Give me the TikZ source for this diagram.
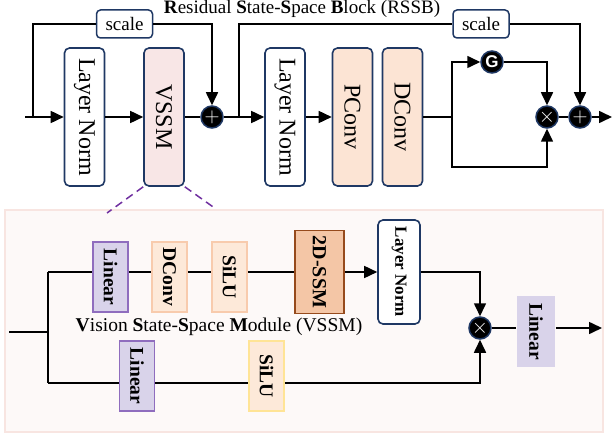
\documentclass[tikz,border=0pt]{standalone}
\usepackage{fontspec}
\setmainfont{Liberation Serif}
\setsansfont{Liberation Sans}
\usetikzlibrary{arrows.meta}
\definecolor{navy}{RGB}{31,56,100}
\definecolor{pinkf}{RGB}{248,230,230}
\definecolor{peachf}{RGB}{252,228,212}
\definecolor{panelf}{RGB}{253,249,248}
\definecolor{paneld}{RGB}{248,229,225}
\definecolor{linf}{RGB}{217,211,234}
\definecolor{lind}{RGB}{143,109,190}
\definecolor{lpeachf}{RGB}{253,233,217}
\definecolor{lpeachd}{RGB}{248,203,173}
\definecolor{yeld}{RGB}{255,228,150}
\definecolor{ssmf}{RGB}{244,198,166}
\definecolor{ssmd}{RGB}{150,74,28}
\definecolor{dashc}{RGB}{112,48,160}
\tikzset{
  conn/.style={line width=1.6pt},
  arr/.style={line width=1.6pt,-{Triangle[length=13pt,width=12pt]}},
  bigbox/.style={draw=navy,line width=1.6pt,rounded corners=5pt,rotate=-90,inner sep=0pt,
    minimum width=138pt,minimum height=40pt,font=\fontsize{24}{24}\selectfont},
  scalebox/.style={draw=navy,line width=1.5pt,rounded corners=4pt,fill=white,inner sep=0pt,
    minimum width=56pt,minimum height=28pt,font=\fontsize{19}{19}\selectfont},
  circ/.style={circle,fill=black,draw=navy,line width=1.5pt,minimum size=22pt,inner sep=0pt,text=white},
  smallbox/.style={rotate=-90,inner sep=0pt,line width=1.8pt,minimum width=70pt,minimum height=35pt,
    font=\fontsize{19.5}{19.5}\selectfont\bfseries},
}
\begin{document}
\begin{tikzpicture}[x=1pt,y=-1pt]
\useasboundingbox (0,0) rectangle (613,433);
% title
\node[font=\fontsize{19}{19}\selectfont] (title) at (302,9) {\textbf{R}esidual \textbf{S}tate-\textbf{S}pace \textbf{B}lock (RSSB)};
% top boxes (rotate=-90: page west = .south, page east = .north)
\node[bigbox,fill=white] (ln1) at (84.5,117) {Layer Norm};
\node[bigbox,fill=pinkf] (vssm) at (164,117) {VSSM};
\node[bigbox,fill=white] (ln2) at (285,117) {Layer Norm};
\node[bigbox,fill=peachf] (pconv) at (352.5,117) {PConv};
\node[bigbox,fill=peachf] (dconv) at (402.5,117) {DConv};
\node[scalebox] (s1) at (124.5,24) {scale};
\node[scalebox] (s2) at (481,24) {scale};
\node[circ,font=\fontsize{20}{20}\selectfont] (p1) at (212,117) {$+$};
\node[circ,font=\fontsize{17}{17}\selectfont\sffamily\bfseries] (g) at (492,62) {G};
\node[circ,font=\fontsize{20}{20}\selectfont] (t1) at (547,117) {$\times$};
\node[circ,font=\fontsize{20}{20}\selectfont] (p2) at (580,117) {$+$};
\coordinate (in) at (25,117);
\coordinate (b1) at (33,117);
\coordinate (b2) at (239,117);
\coordinate (b3) at (452,117);
\coordinate (b4) at (452,167);
\coordinate (out) at (612,117);
% top connectors
\draw[arr] (in) -- (ln1.south);
\draw[conn] (b1) |- (s1.west);
\draw[arr] (s1.east) -| (p1.north);
\draw[arr] (ln1.north) -- (vssm.south);
\draw[conn] (vssm.north) -- (p1.west);
\draw[arr] (p1.east) -- (ln2.south);
\draw[conn] (b2) |- (s2.west);
\draw[arr] (s2.east) -| (p2.north);
\draw[arr] (ln2.north) -- (pconv.south);
\draw[conn] (dconv.north) -- (b3);
\draw[arr] (b3) |- (g.west);
\draw[arr] (g.east) -| (t1.north);
\draw[arr] (b3) -- (b4) -| (t1.south);
\draw[conn] (t1.east) -- (p2.west);
\draw[arr] (p2.east) -- (out);
% panel
\draw[fill=panelf,draw=paneld,line width=1.2pt] (5,210) rectangle (603,432);
\draw[dashc,line width=1.5pt,dash pattern=on 8pt off 5pt] (vssm.south east) -- (107,213);
\draw[dashc,line width=1.5pt,dash pattern=on 8pt off 5pt] (vssm.north east) -- (216,209);
% bottom boxes
\node[smallbox,fill=linf,draw=lind] (lin1) at (110.5,277) {Linear};
\node[smallbox,fill=lpeachf,draw=lpeachd] (dc2) at (169.5,277) {DConv};
\node[smallbox,fill=lpeachf,draw=lpeachd] (si1) at (229.5,277) {SiLU};
\node[smallbox,fill=ssmf,draw=ssmd,minimum width=83pt,minimum height=49pt,font=\fontsize{20}{20}\selectfont\bfseries] (ssm) at (319.5,272) {2D-SSM};
\node[bigbox,fill=white,minimum width=104pt,minimum height=42pt,font=\fontsize{17}{17}\selectfont\bfseries] (ln3) at (399,272) {Layer Norm};
\node[smallbox,fill=linf,draw=lind] (lin2) at (137,376) {Linear};
\node[smallbox,fill=lpeachf,draw=yeld] (si2) at (266.5,376) {SiLU};
\node[smallbox,fill=linf,minimum width=71pt,minimum height=38pt] (lin3) at (536,331.5) {Linear};
\node[circ,font=\fontsize{20}{20}\selectfont] (t2) at (480,328) {$\times$};
\node[font=\fontsize{19.5}{19.5}\selectfont] (cap) at (219,327) {\textbf{V}ision \textbf{S}tate-\textbf{S}pace \textbf{M}odule (VSSM)};
\coordinate (vin) at (9,332);
\coordinate (vb) at (48,332);
\coordinate (r1) at (48,272);
\coordinate (r2) at (48,383);
\coordinate (vout) at (602,328);
% bottom connectors
\draw[conn] (vin) -- (vb);
\draw[conn] (r1) -- (r2);
\draw[conn] (r1) -- (r1 -| lin1.south);
\draw[conn] (lin1.north |- r1) -- (r1 -| dc2.south);
\draw[conn] (dc2.north |- r1) -- (r1 -| si1.south);
\draw[conn] (si1.north |- r1) -- (r1 -| ssm.south);
\draw[arr] (ssm.north) -- (ln3.south);
\draw[arr] (ln3.north) -| (t2.north);
\draw[conn] (r2) -- (r2 -| lin2.south);
\draw[conn] (lin2.north |- r2) -- (r2 -| si2.south);
\draw[arr] (si2.north |- r2) -| (t2.south);
\draw[conn] (t2.east) -- (t2.east -| lin3.south);
\draw[arr] (lin3.north |- t2) -- (vout);
\end{tikzpicture}
\end{document}
